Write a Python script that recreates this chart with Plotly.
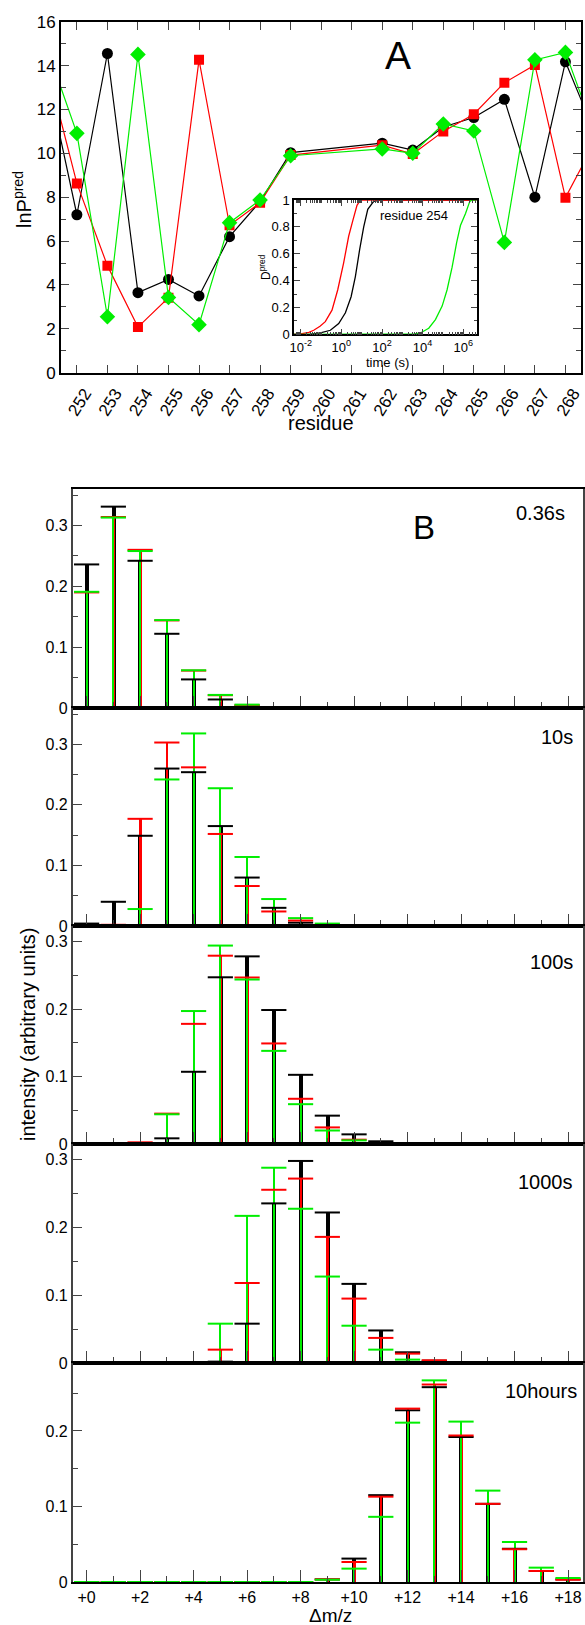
import plotly.graph_objects as go

# ---------------- Panel A data ----------------
residues = [251, 252, 253, 254, 255, 256, 257, 258, 259, 260, 261, 262, 263, 264, 265, 266, 267, 268, 269]
lnp_black = [13.7, 7.2, 14.55, 3.65, 4.25, 3.5, 6.2, 7.8, 10.03, None, None, 10.46, 10.15, 11.2, 11.63, 12.46, 8.0, 14.17, 10.8]
lnp_red = [14.1, 8.63, 4.88, 2.08, 3.42, 14.26, 6.72, 7.75, 9.92, None, None, 10.37, 9.97, 11.0, 11.78, 13.22, 14.03, 7.98, 10.6]
lnp_green = [14.9, 10.91, 2.55, 14.51, 3.43, 2.19, 6.84, 7.87, 9.89, None, None, 10.2, 10.0, 11.34, 11.02, 5.94, 14.26, 14.6, 10.8]
residue_ticks = list(range(252, 269))

# inset: D^pred vs log10(time)
inset_black_logt = [-2.33, -1.5, -1.03, -0.54, -0.13, 0.2, 0.48, 0.69, 0.9, 1.1, 1.3, 1.59, 1.92, 6.66]
inset_black_d = [0.0, 0.002, 0.01, 0.03, 0.08, 0.16, 0.28, 0.43, 0.63, 0.8, 0.93, 0.99, 1.0, 1.0]
inset_red_logt = [-2.33, -2.0, -1.6, -1.36, -1.05, -0.79, -0.46, -0.18, 0.11, 0.36, 0.57, 0.77, 0.94, 6.66]
inset_red_d = [0.0, 0.003, 0.015, 0.03, 0.06, 0.094, 0.18, 0.33, 0.53, 0.73, 0.85, 0.96, 1.0, 1.0]
inset_green_logt = [-2.33, 3.24, 3.6, 3.89, 4.3, 4.63, 4.96, 5.2, 5.45, 5.67, 5.86, 6.11, 6.32, 6.44, 6.66]
inset_green_d = [0.0, 0.0, 0.003, 0.01, 0.045, 0.11, 0.21, 0.33, 0.5, 0.68, 0.81, 0.9, 0.99, 1.0, 1.0]

# ---------------- Panel B data ----------------
mz = list(range(0, 19))
mz_labels = ["+0", "+2", "+4", "+6", "+8", "+10", "+12", "+14", "+16", "+18"]
panel_labels = ["0.36s", "10s", "100s", "1000s", "10hours"]

t036_black = [0.236, 0.331, 0.242, 0.122, 0.047, 0.014, 0.003, 0.0005, 0, 0, 0, 0, 0, 0, 0, 0, 0, 0, 0]
t036_red = [0.19, 0.314, 0.26, 0.144, 0.0615, 0.021, 0.005, 0.001, 0, 0, 0, 0, 0, 0, 0, 0, 0, 0, 0]
t036_green = [0.191, 0.313, 0.258, 0.1445, 0.062, 0.0215, 0.0055, 0.0015, 0, 0, 0, 0, 0, 0, 0, 0, 0, 0, 0]

t10_black = [0.004, 0.04, 0.149, 0.26, 0.254, 0.165, 0.08, 0.030, 0.0055, 0.001, 0.0005, 0, 0, 0, 0, 0, 0, 0, 0]
t10_red = [0, 0.002, 0.177, 0.303, 0.262, 0.152, 0.066, 0.024, 0.009, 0.002, 0.0005, 0, 0, 0, 0, 0, 0, 0, 0]
t10_green = [0, 0, 0.028, 0.242, 0.318, 0.2275, 0.114, 0.0445, 0.013, 0.004, 0.001, 0, 0, 0, 0, 0, 0, 0, 0]

t100_black = [0, 0, 0.001, 0.0084, 0.107, 0.247, 0.278, 0.1985, 0.1025, 0.042, 0.0143, 0.004, 0, 0, 0, 0, 0, 0, 0]
t100_red = [0, 0, 0.0025, 0.045, 0.178, 0.279, 0.2467, 0.149, 0.067, 0.0246, 0.0064, 0.001, 0, 0, 0, 0, 0, 0, 0]
t100_green = [0, 0, 0, 0.044, 0.197, 0.294, 0.2437, 0.138, 0.059, 0.020, 0.0054, 0.001, 0, 0, 0, 0, 0, 0, 0]

t1000_black = [0, 0, 0, 0, 0, 0.002, 0.058, 0.2354, 0.298, 0.222, 0.1167, 0.048, 0.0158, 0.0034, 0.0005, 0, 0, 0, 0]
t1000_red = [0, 0, 0, 0, 0.001, 0.0197, 0.118, 0.2555, 0.272, 0.186, 0.095, 0.037, 0.0138, 0.004, 0.0015, 0, 0, 0, 0]
t1000_green = [0, 0, 0, 0, 0.001, 0.058, 0.217, 0.288, 0.2275, 0.1275, 0.055, 0.0197, 0.005, 0.001, 0, 0, 0, 0, 0]

t10h_black = [0, 0, 0, 0, 0, 0, 0, 0, 0, 0.0035, 0.031, 0.115, 0.2274, 0.258, 0.192, 0.1035, 0.044, 0.0146, 0.0035]
t10h_red = [0, 0, 0, 0, 0, 0, 0, 0, 0, 0.0035, 0.0265, 0.113, 0.2296, 0.2615, 0.194, 0.1035, 0.0434, 0.0146, 0.003]
t10h_green = [0, 0, 0, 0, 0, 0, 0, 0, 0, 0.003, 0.0177, 0.0863, 0.211, 0.267, 0.2124, 0.121, 0.053, 0.019, 0.0053]

panels = [
    (t036_black, t036_red, t036_green),
    (t10_black, t10_red, t10_green),
    (t100_black, t100_red, t100_green),
    (t1000_black, t1000_red, t1000_green),
    (t10h_black, t10h_red, t10h_green),
]
panel_ymax = [0.36, 0.36, 0.323, 0.323, 0.29]

# ---------------- layout helpers ----------------
W, H = 585, 1625
FONT = "Liberation Sans, Arial, sans-serif"
BLACK, RED, GREEN = "#000000", "#ff0000", "#00ee00"


def fx(px):
    return px / W


def fy(py):
    return 1 - py / H


fig = go.Figure()

# Panel A traces
for vals, col, sym, size in [(lnp_black, BLACK, "circle", 11),
                             (lnp_red, RED, "square", 10),
                             (lnp_green, GREEN, "diamond", 12)]:
    fig.add_trace(go.Scatter(x=residues, y=vals, mode="lines+markers", connectgaps=True,
                             line=dict(color=col, width=1.2),
                             marker=dict(symbol=sym, size=size, color=col),
                             xaxis="x", yaxis="y", showlegend=False))

# Inset traces
for lt, d, col in [(inset_black_logt, inset_black_d, BLACK),
                   (inset_red_logt, inset_red_d, RED),
                   (inset_green_logt, inset_green_d, GREEN)]:
    fig.add_trace(go.Scatter(x=[10 ** v for v in lt], y=d, mode="lines",
                             line=dict(color=col, width=1.3),
                             xaxis="x2", yaxis="y2", showlegend=False))

# Panel B traces
bar_widths = [0.15, 0.1, 0.05]
colors = [BLACK, RED, GREEN]
for i, series in enumerate(panels):
    ax = str(i + 3)
    for vals, col, w in zip(series, colors, bar_widths):
        fig.add_trace(go.Bar(x=mz, y=vals, width=w, marker=dict(color=col, line=dict(width=0)),
                             xaxis="x" + ax, yaxis="y" + ax, showlegend=False))
    for vals, col in zip(series, colors):
        fig.add_trace(go.Scatter(x=mz, y=vals, mode="markers",
                                 marker=dict(symbol="line-ew", size=18,
                                             line=dict(color=col, width=2)),
                                 xaxis="x" + ax, yaxis="y" + ax, showlegend=False,
                                 cliponaxis=False))

layout = dict(
    width=W, height=H, margin=dict(l=0, r=0, t=0, b=0),
    template="none", paper_bgcolor="white", plot_bgcolor="white",
    font=dict(family=FONT, color="black"),
    barmode="overlay", bargap=0, showlegend=False,
)

# Panel A axes
A_left, A_right, A_top, A_bottom = 61, 581, 21.7, 372.7
layout["xaxis"] = dict(domain=[fx(A_left), fx(A_right)], range=[251.48, 268.51], anchor="y",
                       tickvals=residue_ticks, ticktext=[str(r) for r in residue_ticks],
                       tickangle=-58, ticks="inside", ticklen=8, tickwidth=1.2,
                       ticklabelshift=8, ticklabelstandoff=2,
                       showline=True, linewidth=2, linecolor="black", mirror="ticks",
                       showgrid=False, zeroline=False, automargin=False,
                       tickfont=dict(size=17))
layout["yaxis"] = dict(domain=[fy(A_bottom), fy(A_top)], range=[0, 16], anchor="x",
                       tickvals=list(range(0, 17, 2)), ticks="inside", ticklen=8, tickwidth=1.2,
                       minor=dict(tickvals=list(range(1, 16, 2)), ticks="inside", ticklen=5, tickwidth=1.2),
                       showline=True, linewidth=2, linecolor="black", mirror="ticks",
                       showgrid=False, zeroline=False, automargin=False,
                       tickfont=dict(size=17))

# Inset axes
I_left, I_right, I_top, I_bottom = 294, 476.7, 200, 334.3
major_t = [1e-2, 1, 1e2, 1e4, 1e6]
minor_t = []
for e in range(-3, 7):
    for m in range(1, 10):
        v = m * 10.0 ** e
        if v not in major_t:
            minor_t.append(v)
layout["xaxis2"] = dict(domain=[fx(I_left), fx(I_right)], type="log", range=[-2.33, 6.66], anchor="y2",
                        tickvals=major_t,
                        ticktext=["10<sup>-2</sup>", "10<sup>0</sup>", "10<sup>2</sup>", "10<sup>4</sup>", "10<sup>6</sup>"],
                        ticks="inside", ticklen=6, tickwidth=1,
                        minor=dict(tickvals=minor_t, ticks="inside", ticklen=3, tickwidth=1),
                        showline=True, linewidth=1.5, linecolor="black", mirror="ticks",
                        showgrid=False, zeroline=False, automargin=False,
                        tickfont=dict(size=13))
layout["yaxis2"] = dict(domain=[fy(I_bottom), fy(I_top)], range=[0, 1], anchor="x2",
                        tickvals=[0, 0.2, 0.4, 0.6, 0.8, 1], ticktext=["0", "0.2", "0.4", "0.6", "0.8", "1"],
                        ticks="inside", ticklen=6, tickwidth=1,
                        minor=dict(tickvals=[0.1, 0.3, 0.5, 0.7, 0.9], ticks="inside", ticklen=3, tickwidth=1),
                        showline=True, linewidth=1.5, linecolor="black", mirror="ticks",
                        showgrid=False, zeroline=False, automargin=False,
                        tickfont=dict(size=13))

# Panel B axes
B_left, B_right = 72.7, 583
B_bounds = [(489, 708), (708, 926), (926, 1144), (1144, 1363), (1363, 1582)]
for i, ((top, bot), ymax) in enumerate(zip(B_bounds, panel_ymax)):
    n = i + 3
    xa = dict(domain=[fx(B_left), fx(B_right)], range=[-0.52, 18.56], anchor="y%d" % n,
              tickvals=list(range(0, 19, 2)), ticktext=mz_labels,
              showticklabels=(i == 4), ticks="inside", ticklen=12, tickwidth=1.2,
              minor=dict(tickvals=list(range(1, 19, 2)), ticks="inside", ticklen=6, tickwidth=1.2),
              showline=True, linewidth=2, linecolor="black", mirror=True,
              showgrid=False, zeroline=False, automargin=False,
              tickfont=dict(size=16))
    if n > 3:
        xa["matches"] = "x3"
    layout["xaxis%d" % n] = xa
    layout["yaxis%d" % n] = dict(domain=[fy(bot), fy(top)], range=[0, ymax], anchor="x%d" % n,
                                 tickvals=[0, 0.1, 0.2, 0.3], ticktext=["0", "0.1", "0.2", "0.3"],
                                 ticks="inside", ticklen=10, tickwidth=1.2,
                                 minor=dict(tickvals=[0.05, 0.15, 0.25, 0.35], ticks="inside", ticklen=6, tickwidth=1.2),
                                 showline=True, linewidth=1.5, linecolor="#444444", mirror=True,
                                 showgrid=False, zeroline=False, automargin=False,
                                 tickfont=dict(size=16))

fig.update_layout(**layout)


def ann(text, px, py, size, angle=0, xanchor="center"):
    fig.add_annotation(text=text, x=fx(px), y=fy(py), xref="paper", yref="paper",
                       showarrow=False, font=dict(size=size, family=FONT, color="black"),
                       textangle=angle, xanchor=xanchor, yanchor="middle")


ann("A", 398, 55, 39)
ann("lnP<sup>pred</sup>", 22, 200, 20, angle=-90)
ann("residue", 321, 423, 20)
ann("residue 254", 414, 215, 13)
ann("D<sup>pred</sup>", 265, 267, 12, angle=-90)
ann("time (s)", 387, 362, 13)

ann("B", 424, 528, 33)
label_pos = [(567, 513), (575, 737), (575, 962), (575, 1182), (579, 1391)]
for lab, (px, py) in zip(panel_labels, label_pos):
    ann(lab, px, py, 20, xanchor="right")
ann("intensity (arbitrary units)", 28, 1035, 20, angle=-90)
ann("Δm/z", 330, 1615, 19)

fig.write_html("out.html")
